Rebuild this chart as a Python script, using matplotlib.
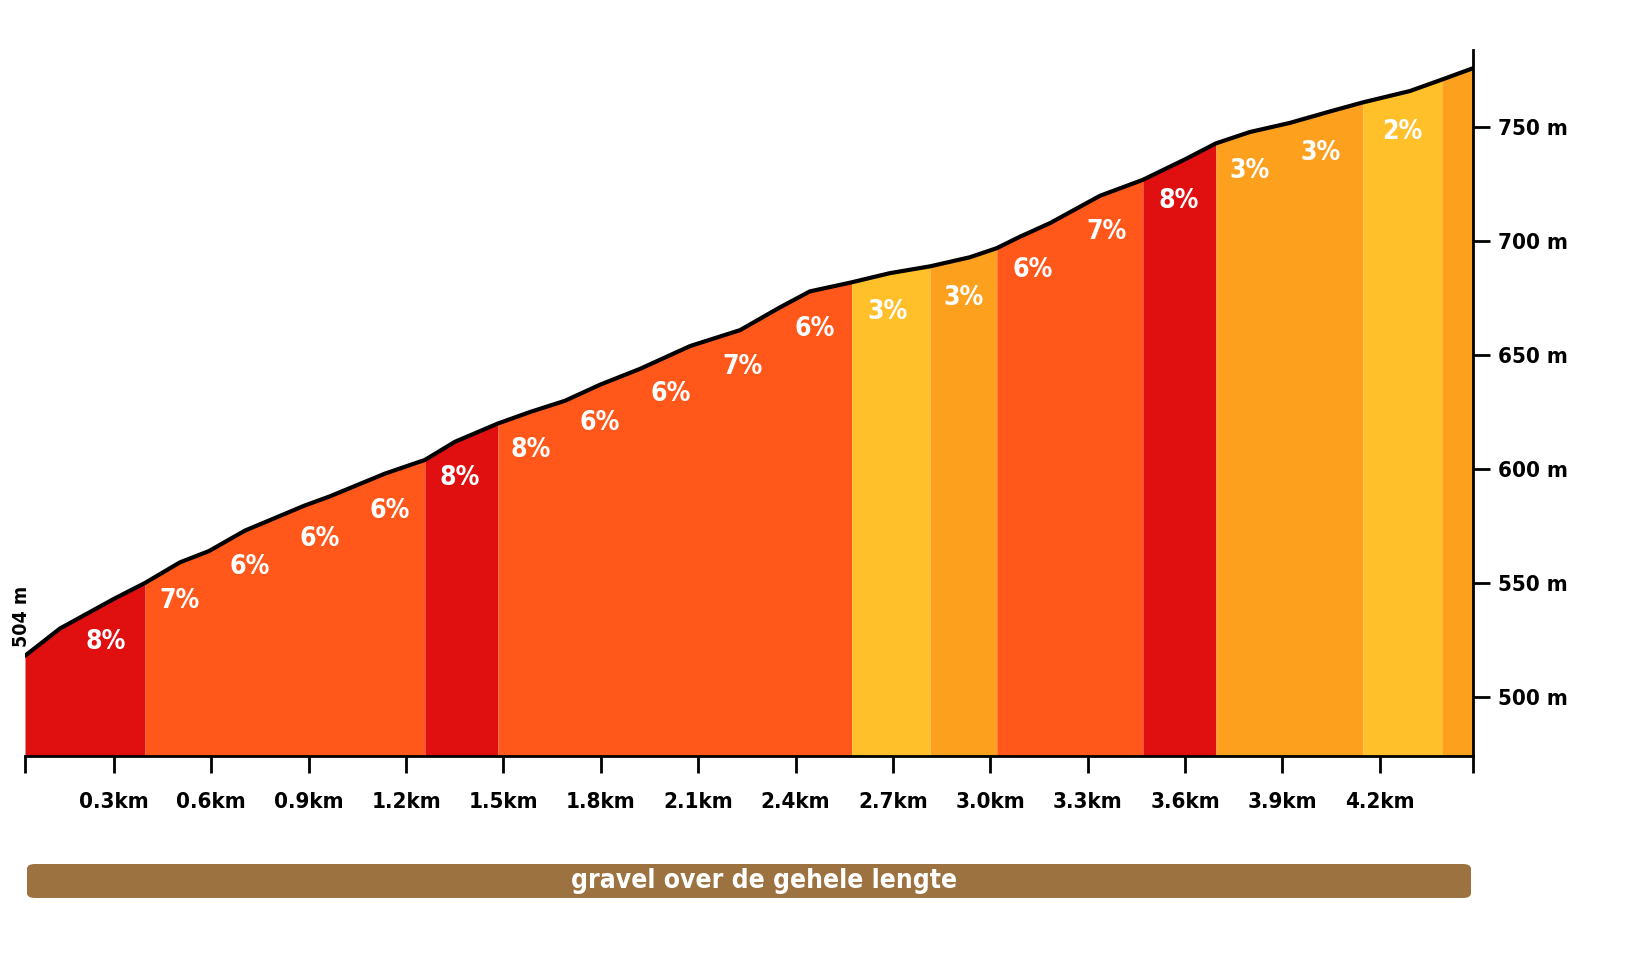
import matplotlib
matplotlib.use("Agg")
import matplotlib.pyplot as plt
from matplotlib.patches import FancyBboxPatch
import numpy as np

plt.rcParams['font.family'] = ['DejaVu Sans']
plt.rcParams['font.stretch'] = 'condensed'

# profile (km, m)
dist = [0.026, 0.134, 0.30, 0.396, 0.503, 0.593, 0.704, 0.888, 0.965, 1.135, 1.258, 1.351,
        1.483, 1.581, 1.690, 1.797, 1.921, 2.075, 2.229, 2.352, 2.444, 2.573, 2.690, 2.814,
        2.937, 3.020, 3.091, 3.184, 3.338, 3.470, 3.600, 3.695, 3.800, 3.923, 4.046, 4.148,
        4.293, 4.391, 4.487]
elev = [518, 530, 543, 550, 559, 564, 573, 584, 588, 598, 604, 612, 620, 625, 630, 637, 644,
        654, 661, 671, 678, 682, 686, 689, 693, 697, 702, 708, 720, 727, 736, 743, 748, 752,
        757, 761, 766, 771, 776]

# coloured sections
bounds = [0.026, 0.396, 1.258, 1.483, 2.573, 2.814, 3.020, 3.470, 3.695, 4.148, 4.391, 4.487]
colors = ["#E01010", "#FF581A", "#E01010", "#FF581A", "#FFC02A", "#FCA01E", "#FF581A",
          "#E01010", "#FCA01E", "#FFC02A", "#FCA01E"]

# gradient labels
lab_x = [0.276, 0.503, 0.719, 0.935, 1.151, 1.366, 1.585, 1.797, 2.016, 2.238, 2.460, 2.684,
         2.916, 3.131, 3.359, 3.581, 3.800, 4.018, 4.268]
lab_t = ["8%", "7%", "6%", "6%", "6%", "8%", "8%", "6%", "6%", "7%", "6%", "3%", "3%", "6%",
         "7%", "8%", "3%", "3%", "2%"]

xticks = [0.3, 0.6, 0.9, 1.2, 1.5, 1.8, 2.1, 2.4, 2.7, 3.0, 3.3, 3.6, 3.9, 4.2]
yticks = [500, 550, 600, 650, 700, 750]

fig = plt.figure(figsize=(16.3, 9.65), dpi=100)
ax = fig.add_axes([25/1630, (965-756)/965, 1448/1630, 706/965])
ax.set_xlim(bounds[0], bounds[-1])
ax.set_ylim(474, 784)

d = np.array(dist); e = np.array(elev)
for i, c in enumerate(colors):
    m = (d >= bounds[i]) & (d <= bounds[i+1])
    xs = np.concatenate([[bounds[i]], d[m], [bounds[i+1]]])
    ys = np.interp(xs, d, e)
    ax.fill_between(xs, 474, ys, color=c, lw=0)
ax.plot(d, e, color="black", lw=3, solid_capstyle="round")

for x, t in zip(lab_x, lab_t):
    ax.text(x, np.interp(x, d, e) - 17, t, color="white", fontsize=19, fontweight="bold",
            ha="center", va="center")

ax.text(bounds[0] - 0.01, 522, "504 m", rotation=90, fontsize=14, fontweight="bold",
        ha="center", va="bottom", clip_on=False)

for s in ["top", "left"]:
    ax.spines[s].set_visible(False)
ax.spines["right"].set_linewidth(2)
ax.spines["bottom"].set_linewidth(2)
ax.yaxis.tick_right()
ax.set_yticks(yticks)
ax.set_yticklabels([f"{v} m" for v in yticks], fontsize=16, fontweight="bold")
ax.set_xticks([bounds[0]] + xticks + [bounds[-1]])
ax.set_xticklabels([""] + [f"{v:.1f}km" for v in xticks] + [""], fontsize=16, fontweight="bold")
ax.tick_params(axis="both", width=2, length=12, pad=6)
ax.tick_params(axis="x", pad=14)

bar = FancyBboxPatch((27/1630, (965-898)/965), 1444/1630, 34/965,
                     boxstyle="round,pad=0,rounding_size=0.005", transform=fig.transFigure,
                     color="#9C7240", lw=0)
fig.patches.append(bar)
fig.text(764/1630, (965-881)/965, "gravel over de gehele lengte", color="white", fontsize=19,
         fontweight="bold", ha="center", va="center")

fig.savefig("out.png", dpi=100)
